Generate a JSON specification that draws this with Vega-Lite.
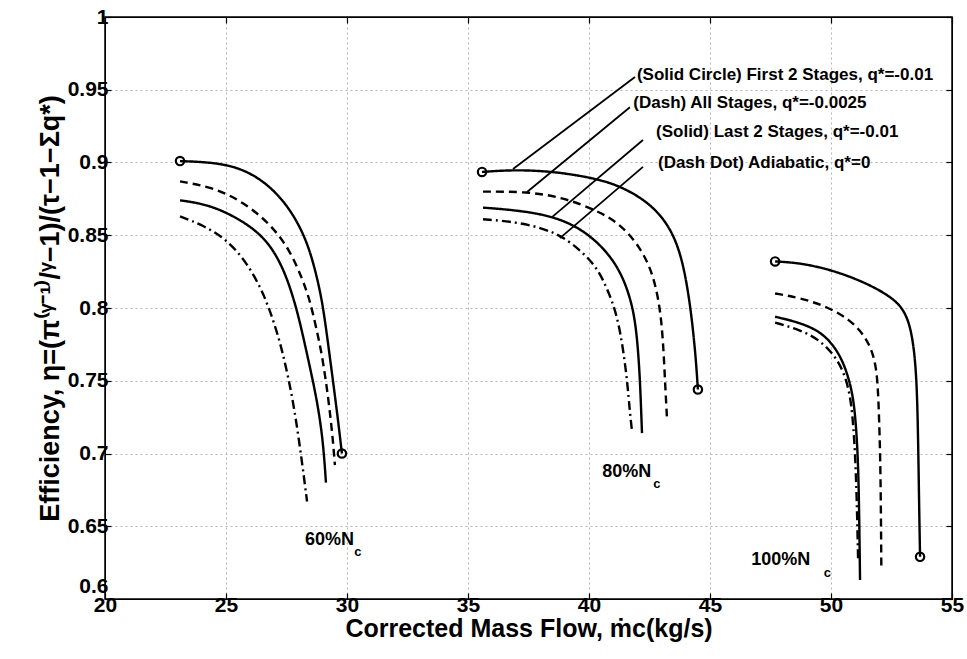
{
  "$schema": "https://vega.github.io/schema/vega-lite/v6.json",
  "width": 847,
  "height": 582,
  "autosize": {"type": "none"},
  "padding": {"left": 105, "top": 17, "right": 15, "bottom": 60},
  "background": "white",
  "config": {
    "view": {"stroke": "black", "strokeWidth": 1.5},
    "font": "Liberation Sans",
    "axis": {
      "labelFont": "Liberation Sans",
      "labelFontWeight": "bold",
      "labelFontSize": 21,
      "labelColor": "black",
      "titleFont": "Liberation Sans",
      "titleFontWeight": "bold",
      "titleColor": "black",
      "domainColor": "black",
      "tickColor": "black",
      "tickWidth": 1.2,
      "gridColor": "#b5b5b5",
      "gridDash": [2, 3],
      "gridWidth": 1
    }
  },
  "datasets": {
    "curves": [
      {"speed": "60", "style": "Solid Circle", "i": 0, "x": 23.10, "y": 0.901},
      {"speed": "60", "style": "Solid Circle", "i": 1, "x": 25.04, "y": 0.8997},
      {"speed": "60", "style": "Solid Circle", "i": 2, "x": 26.40, "y": 0.890},
      {"speed": "60", "style": "Solid Circle", "i": 3, "x": 27.52, "y": 0.872},
      {"speed": "60", "style": "Solid Circle", "i": 4, "x": 28.35, "y": 0.847},
      {"speed": "60", "style": "Solid Circle", "i": 5, "x": 28.78, "y": 0.820},
      {"speed": "60", "style": "Solid Circle", "i": 6, "x": 29.00, "y": 0.802},
      {"speed": "60", "style": "Solid Circle", "i": 7, "x": 29.20, "y": 0.778},
      {"speed": "60", "style": "Solid Circle", "i": 8, "x": 29.42, "y": 0.750},
      {"speed": "60", "style": "Solid Circle", "i": 9, "x": 29.63, "y": 0.723},
      {"speed": "60", "style": "Solid Circle", "i": 10, "x": 29.79, "y": 0.700},
      {"speed": "60", "style": "Dash", "i": 0, "x": 23.10, "y": 0.887},
      {"speed": "60", "style": "Dash", "i": 1, "x": 24.46, "y": 0.883},
      {"speed": "60", "style": "Dash", "i": 2, "x": 25.70, "y": 0.873},
      {"speed": "60", "style": "Dash", "i": 3, "x": 26.82, "y": 0.858},
      {"speed": "60", "style": "Dash", "i": 4, "x": 27.64, "y": 0.840},
      {"speed": "60", "style": "Dash", "i": 5, "x": 28.18, "y": 0.819},
      {"speed": "60", "style": "Dash", "i": 6, "x": 28.47, "y": 0.805},
      {"speed": "60", "style": "Dash", "i": 7, "x": 28.72, "y": 0.787},
      {"speed": "60", "style": "Dash", "i": 8, "x": 28.97, "y": 0.768},
      {"speed": "60", "style": "Dash", "i": 9, "x": 29.24, "y": 0.737},
      {"speed": "60", "style": "Dash", "i": 10, "x": 29.42, "y": 0.709},
      {"speed": "60", "style": "Dash", "i": 11, "x": 29.50, "y": 0.692},
      {"speed": "60", "style": "Solid", "i": 0, "x": 23.10, "y": 0.874},
      {"speed": "60", "style": "Solid", "i": 1, "x": 24.34, "y": 0.871},
      {"speed": "60", "style": "Solid", "i": 2, "x": 25.70, "y": 0.860},
      {"speed": "60", "style": "Solid", "i": 3, "x": 26.69, "y": 0.847},
      {"speed": "60", "style": "Solid", "i": 4, "x": 27.36, "y": 0.828},
      {"speed": "60", "style": "Solid", "i": 5, "x": 27.81, "y": 0.806},
      {"speed": "60", "style": "Solid", "i": 6, "x": 28.10, "y": 0.787},
      {"speed": "60", "style": "Solid", "i": 7, "x": 28.38, "y": 0.766},
      {"speed": "60", "style": "Solid", "i": 8, "x": 28.76, "y": 0.737},
      {"speed": "60", "style": "Solid", "i": 9, "x": 29.01, "y": 0.709},
      {"speed": "60", "style": "Solid", "i": 10, "x": 29.13, "y": 0.680},
      {"speed": "60", "style": "Dash Dot", "i": 0, "x": 23.10, "y": 0.863},
      {"speed": "60", "style": "Dash Dot", "i": 1, "x": 24.05, "y": 0.857},
      {"speed": "60", "style": "Dash Dot", "i": 2, "x": 25.04, "y": 0.847},
      {"speed": "60", "style": "Dash Dot", "i": 3, "x": 25.87, "y": 0.831},
      {"speed": "60", "style": "Dash Dot", "i": 4, "x": 26.50, "y": 0.812},
      {"speed": "60", "style": "Dash Dot", "i": 5, "x": 26.95, "y": 0.792},
      {"speed": "60", "style": "Dash Dot", "i": 6, "x": 27.33, "y": 0.771},
      {"speed": "60", "style": "Dash Dot", "i": 7, "x": 27.77, "y": 0.737},
      {"speed": "60", "style": "Dash Dot", "i": 8, "x": 28.08, "y": 0.702},
      {"speed": "60", "style": "Dash Dot", "i": 9, "x": 28.35, "y": 0.667},
      {"speed": "80", "style": "Solid Circle", "i": 0, "x": 35.58, "y": 0.8935},
      {"speed": "80", "style": "Solid Circle", "i": 1, "x": 36.86, "y": 0.895},
      {"speed": "80", "style": "Solid Circle", "i": 2, "x": 38.51, "y": 0.894},
      {"speed": "80", "style": "Solid Circle", "i": 3, "x": 40.33, "y": 0.889},
      {"speed": "80", "style": "Solid Circle", "i": 4, "x": 41.40, "y": 0.883},
      {"speed": "80", "style": "Solid Circle", "i": 5, "x": 42.52, "y": 0.872},
      {"speed": "80", "style": "Solid Circle", "i": 6, "x": 43.35, "y": 0.856},
      {"speed": "80", "style": "Solid Circle", "i": 7, "x": 43.84, "y": 0.835},
      {"speed": "80", "style": "Solid Circle", "i": 8, "x": 44.13, "y": 0.808},
      {"speed": "80", "style": "Solid Circle", "i": 9, "x": 44.30, "y": 0.785},
      {"speed": "80", "style": "Solid Circle", "i": 10, "x": 44.42, "y": 0.764},
      {"speed": "80", "style": "Solid Circle", "i": 11, "x": 44.50, "y": 0.744},
      {"speed": "80", "style": "Dash", "i": 0, "x": 35.62, "y": 0.880},
      {"speed": "80", "style": "Dash", "i": 1, "x": 37.44, "y": 0.880},
      {"speed": "80", "style": "Dash", "i": 2, "x": 38.93, "y": 0.876},
      {"speed": "80", "style": "Dash", "i": 3, "x": 40.33, "y": 0.867},
      {"speed": "80", "style": "Dash", "i": 4, "x": 41.28, "y": 0.858},
      {"speed": "80", "style": "Dash", "i": 5, "x": 42.11, "y": 0.842},
      {"speed": "80", "style": "Dash", "i": 6, "x": 42.64, "y": 0.824},
      {"speed": "80", "style": "Dash", "i": 7, "x": 42.93, "y": 0.801},
      {"speed": "80", "style": "Dash", "i": 8, "x": 43.06, "y": 0.778},
      {"speed": "80", "style": "Dash", "i": 9, "x": 43.14, "y": 0.750},
      {"speed": "80", "style": "Dash", "i": 10, "x": 43.22, "y": 0.725},
      {"speed": "80", "style": "Solid", "i": 0, "x": 35.62, "y": 0.869},
      {"speed": "80", "style": "Solid", "i": 1, "x": 37.15, "y": 0.867},
      {"speed": "80", "style": "Solid", "i": 2, "x": 38.51, "y": 0.863},
      {"speed": "80", "style": "Solid", "i": 3, "x": 39.63, "y": 0.855},
      {"speed": "80", "style": "Solid", "i": 4, "x": 40.58, "y": 0.842},
      {"speed": "80", "style": "Solid", "i": 5, "x": 41.28, "y": 0.826},
      {"speed": "80", "style": "Solid", "i": 6, "x": 41.69, "y": 0.808},
      {"speed": "80", "style": "Solid", "i": 7, "x": 41.90, "y": 0.792},
      {"speed": "80", "style": "Solid", "i": 8, "x": 42.02, "y": 0.773},
      {"speed": "80", "style": "Solid", "i": 9, "x": 42.11, "y": 0.750},
      {"speed": "80", "style": "Solid", "i": 10, "x": 42.19, "y": 0.714},
      {"speed": "80", "style": "Dash Dot", "i": 0, "x": 35.62, "y": 0.861},
      {"speed": "80", "style": "Dash Dot", "i": 1, "x": 37.15, "y": 0.859},
      {"speed": "80", "style": "Dash Dot", "i": 2, "x": 38.68, "y": 0.852},
      {"speed": "80", "style": "Dash Dot", "i": 3, "x": 39.63, "y": 0.840},
      {"speed": "80", "style": "Dash Dot", "i": 4, "x": 40.33, "y": 0.828},
      {"speed": "80", "style": "Dash Dot", "i": 5, "x": 40.79, "y": 0.812},
      {"speed": "80", "style": "Dash Dot", "i": 6, "x": 41.16, "y": 0.795},
      {"speed": "80", "style": "Dash Dot", "i": 7, "x": 41.40, "y": 0.773},
      {"speed": "80", "style": "Dash Dot", "i": 8, "x": 41.58, "y": 0.750},
      {"speed": "80", "style": "Dash Dot", "i": 9, "x": 41.69, "y": 0.728},
      {"speed": "80", "style": "Dash Dot", "i": 10, "x": 41.78, "y": 0.715},
      {"speed": "100", "style": "Solid Circle", "i": 0, "x": 47.69, "y": 0.832},
      {"speed": "100", "style": "Solid Circle", "i": 1, "x": 48.72, "y": 0.831},
      {"speed": "100", "style": "Solid Circle", "i": 2, "x": 50.08, "y": 0.826},
      {"speed": "100", "style": "Solid Circle", "i": 3, "x": 51.49, "y": 0.817},
      {"speed": "100", "style": "Solid Circle", "i": 4, "x": 52.56, "y": 0.807},
      {"speed": "100", "style": "Solid Circle", "i": 5, "x": 53.10, "y": 0.797},
      {"speed": "100", "style": "Solid Circle", "i": 6, "x": 53.38, "y": 0.780},
      {"speed": "100", "style": "Solid Circle", "i": 7, "x": 53.54, "y": 0.753},
      {"speed": "100", "style": "Solid Circle", "i": 8, "x": 53.60, "y": 0.711},
      {"speed": "100", "style": "Solid Circle", "i": 9, "x": 53.64, "y": 0.666},
      {"speed": "100", "style": "Solid Circle", "i": 10, "x": 53.68, "y": 0.629},
      {"speed": "100", "style": "Dash", "i": 0, "x": 47.69, "y": 0.810},
      {"speed": "100", "style": "Dash", "i": 1, "x": 48.72, "y": 0.807},
      {"speed": "100", "style": "Dash", "i": 2, "x": 49.83, "y": 0.801},
      {"speed": "100", "style": "Dash", "i": 3, "x": 50.79, "y": 0.792},
      {"speed": "100", "style": "Dash", "i": 4, "x": 51.45, "y": 0.780},
      {"speed": "100", "style": "Dash", "i": 5, "x": 51.80, "y": 0.766},
      {"speed": "100", "style": "Dash", "i": 6, "x": 51.93, "y": 0.750},
      {"speed": "100", "style": "Dash", "i": 7, "x": 51.99, "y": 0.723},
      {"speed": "100", "style": "Dash", "i": 8, "x": 52.05, "y": 0.689},
      {"speed": "100", "style": "Dash", "i": 9, "x": 52.08, "y": 0.622},
      {"speed": "100", "style": "Solid", "i": 0, "x": 47.69, "y": 0.794},
      {"speed": "100", "style": "Solid", "i": 1, "x": 48.72, "y": 0.790},
      {"speed": "100", "style": "Solid", "i": 2, "x": 49.67, "y": 0.783},
      {"speed": "100", "style": "Solid", "i": 3, "x": 50.35, "y": 0.769},
      {"speed": "100", "style": "Solid", "i": 4, "x": 50.72, "y": 0.753},
      {"speed": "100", "style": "Solid", "i": 5, "x": 50.97, "y": 0.735},
      {"speed": "100", "style": "Solid", "i": 6, "x": 51.11, "y": 0.700},
      {"speed": "100", "style": "Solid", "i": 7, "x": 51.16, "y": 0.666},
      {"speed": "100", "style": "Solid", "i": 8, "x": 51.20, "y": 0.613},
      {"speed": "100", "style": "Dash Dot", "i": 0, "x": 47.69, "y": 0.790},
      {"speed": "100", "style": "Dash Dot", "i": 1, "x": 48.72, "y": 0.785},
      {"speed": "100", "style": "Dash Dot", "i": 2, "x": 49.55, "y": 0.778},
      {"speed": "100", "style": "Dash Dot", "i": 3, "x": 50.22, "y": 0.766},
      {"speed": "100", "style": "Dash Dot", "i": 4, "x": 50.60, "y": 0.753},
      {"speed": "100", "style": "Dash Dot", "i": 5, "x": 50.86, "y": 0.735},
      {"speed": "100", "style": "Dash Dot", "i": 6, "x": 51.00, "y": 0.700},
      {"speed": "100", "style": "Dash Dot", "i": 7, "x": 51.07, "y": 0.666},
      {"speed": "100", "style": "Dash Dot", "i": 8, "x": 51.12, "y": 0.627}
    ],
    "circles": [
      {"speed": "60", "x": 23.10, "y": 0.901},
      {"speed": "60", "x": 29.79, "y": 0.700},
      {"speed": "80", "x": 35.58, "y": 0.8935},
      {"speed": "80", "x": 44.50, "y": 0.744},
      {"speed": "100", "x": 47.69, "y": 0.832},
      {"speed": "100", "x": 53.68, "y": 0.629}
    ],
    "leaders": [
      {"x": 36.86, "y": 0.8955, "x2": 41.90, "y2": 0.9588},
      {"x": 37.44, "y": 0.8797, "x2": 41.69, "y2": 0.938},
      {"x": 38.47, "y": 0.8625, "x2": 42.23, "y2": 0.9155},
      {"x": 38.80, "y": 0.848, "x2": 42.23, "y2": 0.897}
    ],
    "notes": [
      {"x": 41.98, "y": 0.960, "text": "(Solid Circle) First 2 Stages, q*=-0.01"},
      {"x": 41.83, "y": 0.941, "text": "(Dash) All Stages, q*=-0.0025"},
      {"x": 42.77, "y": 0.921, "text": "(Solid)  Last 2 Stages, q*=-0.01"},
      {"x": 42.85, "y": 0.900, "text": "(Dash Dot)  Adiabatic,  q*=0"}
    ],
    "speeds": [
      {"x": 28.26, "y": 0.6405, "text": "60%N"},
      {"x": 40.55, "y": 0.6875, "text": "80%N"},
      {"x": 46.70, "y": 0.627, "text": "100%N"}
    ],
    "subs": [
      {"x": 30.30, "y": 0.632, "text": "c"},
      {"x": 42.65, "y": 0.679, "text": "c"},
      {"x": 49.70, "y": 0.618, "text": "c"}
    ]
  },
  "layer": [
    {
      "data": {"name": "curves"},
      "mark": {"type": "line", "color": "black", "strokeWidth": 2.4, "interpolate": "basis"},
      "encoding": {
        "x": {
          "field": "x", "type": "quantitative",
          "scale": {"domain": [20, 55], "nice": false, "zero": false},
          "axis": {
            "orient": "bottom",
            "title": "Corrected Mass Flow, ṁc(kg/s)",
            "titleFontSize": 25,
            "titlePadding": 1,
            "values": [20, 25, 30, 35, 40, 45, 50, 55],
            "labelExpr": "format(datum.value, '~g')",
            "labelPadding": 1,
            "tickSize": -6,
            "grid": true,
            "labelFlush": false,
            "labelOverlap": false
          }
        },
        "y": {
          "field": "y", "type": "quantitative",
          "scale": {"domain": [0.6, 1], "nice": false, "zero": false},
          "axis": {
            "orient": "left",
            "title": "Efficiency, η=(π⁽ᵞ⁻¹⁾/ᵞ−1)/(τ−1−Σq*)",
            "titleFontSize": 27,
            "titlePadding": 3,
            "values": [0.6, 0.65, 0.7, 0.75, 0.8, 0.85, 0.9, 0.95, 1],
            "labelExpr": "format(datum.value, '~g')",
            "labelBaseline": {"condition": {"test": "datum.value <= 0.6", "value": "bottom"}, "value": "middle"},
            "labelOffset": {"condition": {"test": "datum.value <= 0.6", "value": -3}, "value": 0},
            "labelPadding": 3,
            "tickSize": -6,
            "grid": true,
            "labelFlush": false,
            "labelOverlap": false
          }
        },
        "detail": [{"field": "speed"}, {"field": "style"}],
        "order": {"field": "i", "type": "quantitative"},
        "strokeDash": {
          "field": "style", "type": "nominal",
          "scale": {"domain": ["Solid Circle", "Dash", "Solid", "Dash Dot"], "range": [[1, 0], [8, 5], [1, 0], [9, 4, 2, 4]]},
          "legend": null
        }
      }
    },
    {
      "data": {"name": "circles"},
      "mark": {"type": "point", "filled": false, "color": "black", "strokeWidth": 2.2, "size": 70, "opacity": 1},
      "encoding": {
        "x": {"field": "x", "type": "quantitative",
          "axis": {"orient": "top", "labels": false, "title": null, "grid": false, "tickSize": -6, "values": [20, 25, 30, 35, 40, 45, 50, 55]}},
        "y": {"field": "y", "type": "quantitative",
          "axis": {"orient": "right", "labels": false, "title": null, "grid": false, "tickSize": -6, "values": [0.6, 0.65, 0.7, 0.75, 0.8, 0.85, 0.9, 0.95, 1]}}
      }
    },
    {
      "data": {"name": "leaders"},
      "mark": {"type": "rule", "color": "black", "strokeWidth": 1.8},
      "encoding": {
        "x": {"field": "x", "type": "quantitative", "axis": null},
        "y": {"field": "y", "type": "quantitative", "axis": null},
        "x2": {"field": "x2"},
        "y2": {"field": "y2"}
      }
    },
    {
      "data": {"name": "notes"},
      "mark": {"type": "text", "align": "left", "baseline": "middle", "fontSize": 17, "fontWeight": "bold", "font": "Liberation Sans", "color": "black"},
      "encoding": {
        "x": {"field": "x", "type": "quantitative", "axis": null},
        "y": {"field": "y", "type": "quantitative", "axis": null},
        "text": {"field": "text"}
      }
    },
    {
      "data": {"name": "speeds"},
      "mark": {"type": "text", "align": "left", "baseline": "middle", "fontSize": 18, "fontWeight": "bold", "font": "Liberation Sans", "color": "black"},
      "encoding": {
        "x": {"field": "x", "type": "quantitative", "axis": null},
        "y": {"field": "y", "type": "quantitative", "axis": null},
        "text": {"field": "text"}
      }
    },
    {
      "data": {"name": "subs"},
      "mark": {"type": "text", "align": "left", "baseline": "middle", "fontSize": 13, "fontWeight": "bold", "font": "Liberation Sans", "color": "black"},
      "encoding": {
        "x": {"field": "x", "type": "quantitative", "axis": null},
        "y": {"field": "y", "type": "quantitative", "axis": null},
        "text": {"field": "text"}
      }
    }
  ],
  "resolve": {"axis": {"x": "independent", "y": "independent"}}
}
